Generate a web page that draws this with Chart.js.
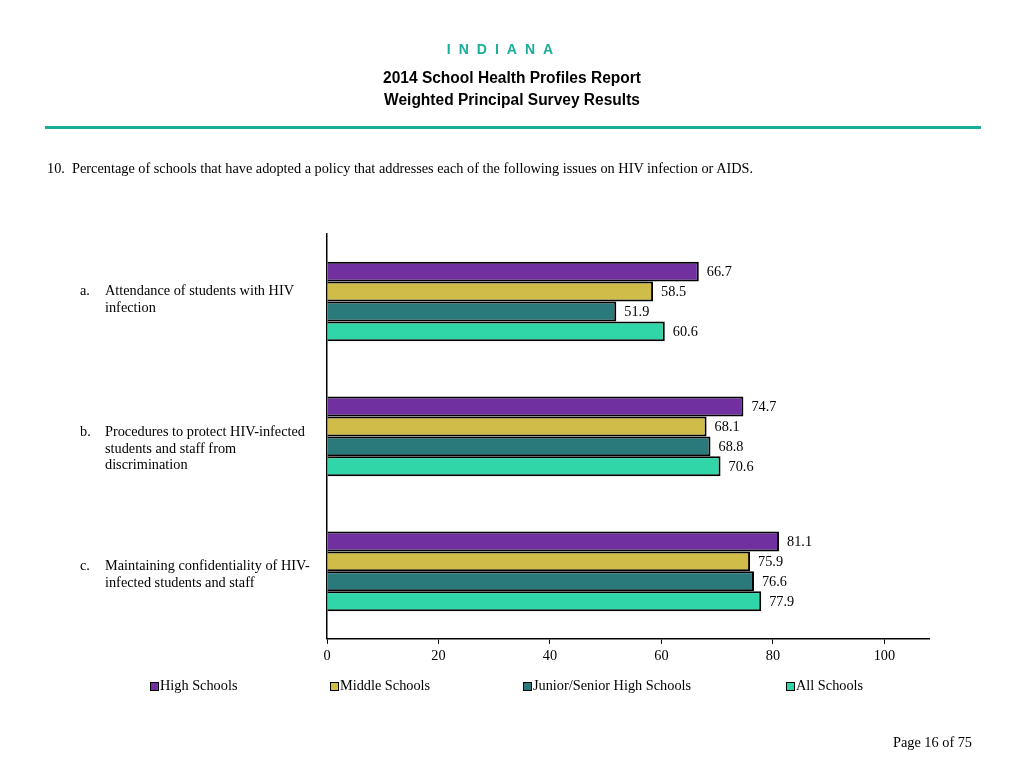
<!DOCTYPE html>
<html><head><meta charset="utf-8">
<script src="https://cdn.jsdelivr.net/npm/chart.js@4/dist/chart.umd.min.js"></script>
<style>
html,body{margin:0;padding:0;background:#fff;}
#wrap{position:relative;width:1024px;height:768px;overflow:hidden;}
#c{position:absolute;left:0;top:0;}
.t{position:absolute;left:0;width:1024px;text-align:center;font-family:"Liberation Sans",Arial,sans-serif;}
#state{top:41px;color:#1aae9a;font-weight:bold;font-size:14px;letter-spacing:8px;margin-left:-8px;}
#t1{top:69px;font-weight:bold;font-size:16px;color:#000;transform:scaleX(0.97);}
#t2{top:91px;font-weight:bold;font-size:16px;color:#000;transform:scaleX(0.97);}
#rule{position:absolute;left:45px;top:126px;width:936px;height:3px;background:#1aae9a;}
#q{position:absolute;left:47px;top:160px;font-family:"Liberation Serif","Times New Roman",serif;font-size:14.3px;color:#000;}
#page{position:absolute;left:893px;top:734px;font-family:"Liberation Serif","Times New Roman",serif;font-size:14.3px;color:#000;}
</style></head>
<body><div id="wrap">
<canvas id="c" width="1024" height="768"></canvas>
<div class="t" id="state">INDIANA</div>
<div class="t" id="t1">2014 School Health Profiles Report</div>
<div class="t" id="t2">Weighted Principal Survey Results</div>
<div id="rule"></div>
<div id="q">10.&nbsp;&nbsp;Percentage of schools that have adopted a policy that addresses each of the following issues on HIV infection or AIDS.</div>
<div id="page">Page 16 of 75</div>
</div>
<script>
const categoryLetters = ["a.", "b.", "c."];
const categoryLines = [
  ["Attendance of students with HIV", "infection"],
  ["Procedures to protect HIV-infected", "students and staff from", "discrimination"],
  ["Maintaining confidentiality of HIV-", "infected students and staff"]
];
const seriesNames = ["High Schools", "Middle Schools", "Junior/Senior High Schools", "All Schools"];
const highSchools = [66.7, 74.7, 81.1];
const middleSchools = [58.5, 68.1, 75.9];
const juniorSenior = [51.9, 68.8, 76.6];
const allSchools = [60.6, 70.6, 77.9];
const xTicks = [0, 20, 40, 60, 80, 100];

const colors = ["#7030a0", "#d0bc48", "#2a7a7c", "#30d5a8"];
const serif = '"Liberation Serif","Times New Roman",serif';

const labelsPlugin = {
  id: 'customText',
  afterDatasetsDraw(chart) {
    const ctx = chart.ctx;
    ctx.save();
    ctx.font = '14.3px ' + serif;
    ctx.fillStyle = '#000';
    ctx.textBaseline = 'middle';
    ctx.textAlign = 'left';
    chart.data.datasets.forEach((ds, i) => {
      const meta = chart.getDatasetMeta(i);
      meta.data.forEach((el, j) => {
        ctx.fillText(ds.data[j].toFixed(1), el.x + 8, el.y + 1);
      });
    });
    // category labels
    const yScale = chart.scales.y;
    const offs = [-10, -4, -5];
    categoryLines.forEach((lines, i) => {
      const cy = yScale.getPixelForValue(i);
      const y0 = cy + offs[i];
      ctx.fillText(categoryLetters[i], 80, y0);
      lines.forEach((ln, k) => ctx.fillText(ln, 105, y0 + k * 16.5));
    });
    // legend
    const lx = [150, 330, 523, 786];
    const ly = 686;
    seriesNames.forEach((n, i) => {
      ctx.fillStyle = colors[i];
      ctx.fillRect(lx[i], ly - 4, 9, 9);
      ctx.strokeStyle = '#000';
      ctx.lineWidth = 1;
      ctx.strokeRect(lx[i] + 0.5, ly - 3.5, 8, 8);
      ctx.fillStyle = '#000';
      ctx.fillText(n, lx[i] + 10, ly);
    });
    ctx.restore();
  }
};

new Chart(document.getElementById('c'), {
  type: 'bar',
  data: {
    labels: categoryLetters,
    datasets: [
      { label: seriesNames[0], data: highSchools },
      { label: seriesNames[1], data: middleSchools },
      { label: seriesNames[2], data: juniorSenior },
      { label: seriesNames[3], data: allSchools }
    ].map((d, i) => Object.assign(d, {
      backgroundColor: colors[i], borderColor: '#000', borderWidth: 2,
      categoryPercentage: 0.59, barPercentage: 1.0
    }))
  },
  options: {
    indexAxis: 'y',
    responsive: false,
    animation: false,
    devicePixelRatio: 1,
    layout: { padding: { left: 327, right: 95, top: 234, bottom: 99 } },
    plugins: { legend: { display: false }, tooltip: { enabled: false } },
    scales: {
      x: {
        min: 0, max: 108,
        afterBuildTicks: (axis) => { axis.ticks = xTicks.map(v => ({ value: v })); },
        grid: { drawOnChartArea: false, drawTicks: true, tickLength: 5, color: '#000', lineWidth: 1 },
        border: { color: '#000', width: 1.5 },
        ticks: { color: '#000', font: { family: serif, size: 14.3 }, padding: 4, maxRotation: 0 }
      },
      y: {
        afterFit: (s) => { s.width = 0; },
        grid: { display: false },
        border: { color: '#000', width: 1.5 },
        ticks: { display: false }
      }
    }
  },
  plugins: [labelsPlugin]
});
</script>
</body></html>
